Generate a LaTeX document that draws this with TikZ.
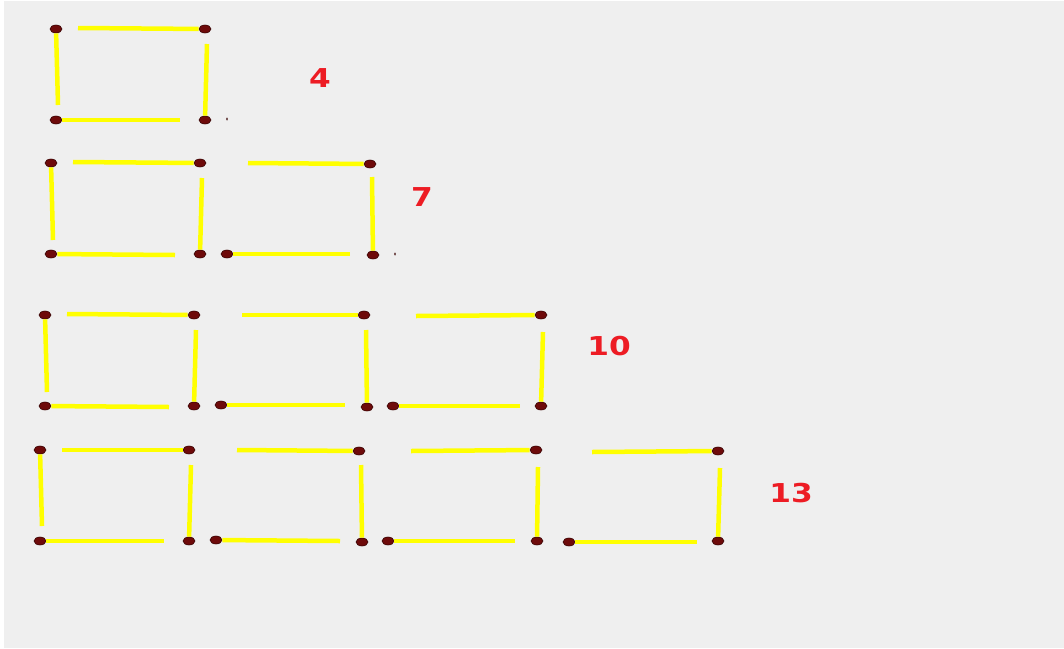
\documentclass[tikz,border=0pt]{standalone}
\usepackage{fontspec}
\newfontfamily\numfont{DejaVu Sans}
\usepackage{tikz}
\usetikzlibrary{positioning, shapes.geometric}
\definecolor{matchhead}{HTML}{6E0A0A}
\definecolor{matchrim}{HTML}{3A0505}
\definecolor{matchwood}{HTML}{FFFF00}
\definecolor{countred}{HTML}{ED1C24}
\definecolor{canvas}{HTML}{EFEFEF}

\begin{document}
\begin{tikzpicture}[
  x=1pt, y=-1pt,
  head/.style={ellipse, draw=matchrim, line width=0.6pt, fill=matchhead,
    minimum width=12pt, minimum height=8pt, inner sep=0pt},
  speck/.style={ellipse, fill=matchrim, minimum width=1.6pt,
    minimum height=3.5pt, inner sep=0pt},
  stick/.style={matchwood, line width=4.5pt},
  count/.style={font=\numfont\bfseries\fontsize{26}{26}\selectfont,
    text=countred, xscale=1.2, inner sep=0pt},
]

% ── Canvas ───────────────────────────────────────────────
\fill[white] (0,0) rectangle (1064,648);
\fill[canvas] (4,1) rectangle (1064,648);
\useasboundingbox (0,0) rectangle (1064,648);

% ── Row 1: one square ───────────────────────────────────
\node[head] (a1) at (56,29) {};
\node[head] (a2) at (205,29) {};
\node[head] (a3) at (205,120) {};
\node[head] (a4) at (56,120) {};
\coordinate (a1t) at (58,105);
\coordinate (a2t) at (78,28);
\coordinate (a3t) at (207,44);
\coordinate (a4t) at (180,120);
\draw[stick] (a1) -- (a1t);
\draw[stick] (a2) -- (a2t);
\draw[stick] (a3) -- (a3t);
\draw[stick] (a4) -- (a4t);
\node[speck] (s1) at (227,119) {};
\node[count] (n1) at (320,78) {4};

% ── Row 2: two squares ──────────────────────────────────
\node[head] (b1) at (51,163) {};
\node[head] (b2) at (200,163) {};
\node[head] (b3) at (200,254) {};
\node[head] (b4) at (51,254) {};
\node[head] (b5) at (370,164) {};
\node[head] (b6) at (373,255) {};
\node[head] (b7) at (227,254) {};
\coordinate (b1t) at (53,240);
\coordinate (b2t) at (73,162);
\coordinate (b3t) at (202,178);
\coordinate (b4t) at (175,255);
\coordinate (b5t) at (248,163);
\coordinate (b6t) at (372,177);
\coordinate (b7t) at (350,254);
\draw[stick] (b1) -- (b1t);
\draw[stick] (b2) -- (b2t);
\draw[stick] (b3) -- (b3t);
\draw[stick] (b4) -- (b4t);
\draw[stick] (b5) -- (b5t);
\draw[stick] (b6) -- (b6t);
\draw[stick] (b7) -- (b7t);
\node[speck] (s2) at (395,254) {};
\node[count] (n2) at (422,197) {7};

% ── Row 3: three squares ────────────────────────────────
\node[head] (c1) at (45,315) {};
\node[head] (c2) at (194,315) {};
\node[head] (c3) at (194,406) {};
\node[head] (c4) at (45,406) {};
\node[head] (c5) at (364,315) {};
\node[head] (c6) at (367,407) {};
\node[head] (c7) at (221,405) {};
\node[head] (c8) at (541,315) {};
\node[head] (c9) at (541,406) {};
\node[head] (c10) at (393,406) {};
\coordinate (c1t) at (47,392);
\coordinate (c2t) at (67,314);
\coordinate (c3t) at (196,330);
\coordinate (c4t) at (169,407);
\coordinate (c5t) at (242,315);
\coordinate (c6t) at (366,330);
\coordinate (c7t) at (345,405);
\coordinate (c8t) at (416,316);
\coordinate (c9t) at (543,332);
\coordinate (c10t) at (520,406);
\draw[stick] (c1) -- (c1t);
\draw[stick] (c2) -- (c2t);
\draw[stick] (c3) -- (c3t);
\draw[stick] (c4) -- (c4t);
\draw[stick] (c5) -- (c5t);
\draw[stick] (c6) -- (c6t);
\draw[stick] (c7) -- (c7t);
\draw[stick] (c8) -- (c8t);
\draw[stick] (c9) -- (c9t);
\draw[stick] (c10) -- (c10t);
\node[count] (n3) at (609,346) {10};

% ── Row 4: four squares ─────────────────────────────────
\node[head] (d1) at (40,450) {};
\node[head] (d2) at (189,450) {};
\node[head] (d3) at (189,541) {};
\node[head] (d4) at (40,541) {};
\node[head] (d5) at (359,451) {};
\node[head] (d6) at (362,542) {};
\node[head] (d7) at (216,540) {};
\node[head] (d8) at (536,450) {};
\node[head] (d9) at (537,541) {};
\node[head] (d10) at (388,541) {};
\node[head] (d11) at (718,451) {};
\node[head] (d12) at (718,541) {};
\node[head] (d13) at (569,542) {};
\coordinate (d1t) at (42,526);
\coordinate (d2t) at (62,450);
\coordinate (d3t) at (191,465);
\coordinate (d4t) at (164,541);
\coordinate (d5t) at (237,450);
\coordinate (d6t) at (361,465);
\coordinate (d7t) at (340,541);
\coordinate (d8t) at (411,451);
\coordinate (d9t) at (538,467);
\coordinate (d10t) at (515,541);
\coordinate (d11t) at (592,452);
\coordinate (d12t) at (720,468);
\coordinate (d13t) at (697,542);
\draw[stick] (d1) -- (d1t);
\draw[stick] (d2) -- (d2t);
\draw[stick] (d3) -- (d3t);
\draw[stick] (d4) -- (d4t);
\draw[stick] (d5) -- (d5t);
\draw[stick] (d6) -- (d6t);
\draw[stick] (d7) -- (d7t);
\draw[stick] (d8) -- (d8t);
\draw[stick] (d9) -- (d9t);
\draw[stick] (d10) -- (d10t);
\draw[stick] (d11) -- (d11t);
\draw[stick] (d12) -- (d12t);
\draw[stick] (d13) -- (d13t);
\node[count] (n4) at (791,493) {13};

\end{tikzpicture}
\end{document}
